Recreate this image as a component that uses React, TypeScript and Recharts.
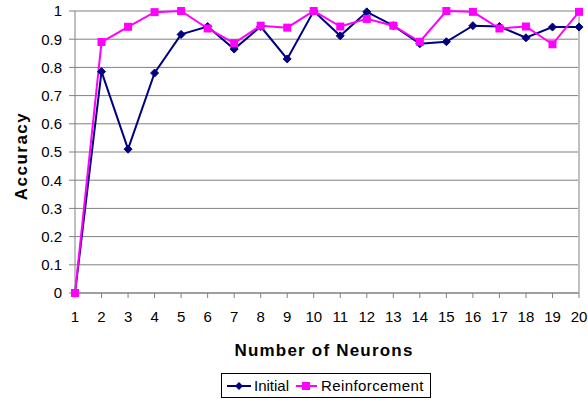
import React from 'react';
import {
  LineChart,
  Line,
  XAxis,
  YAxis,
  CartesianGrid,
  Legend,
  ReferenceLine,
} from 'recharts';

// Number of neurons on the x axis
const neurons = [1, 2, 3, 4, 5, 6, 7, 8, 9, 10, 11, 12, 13, 14, 15, 16, 17, 18, 19, 20];

// Accuracy after initial training
const initial = [
  0, 0.785, 0.51, 0.78, 0.917, 0.945, 0.865, 0.945, 0.83, 1.0,
  0.912, 0.997, 0.948, 0.884, 0.891, 0.948, 0.945, 0.905, 0.943, 0.943,
];

// Accuracy after reinforcement
const reinforcement = [
  0, 0.89, 0.944, 0.996, 1.0, 0.938, 0.886, 0.948, 0.941, 1.0,
  0.945, 0.972, 0.948, 0.891, 1.0, 0.997, 0.938, 0.945, 0.882, 0.997,
];

const yTicks = [0, 0.1, 0.2, 0.3, 0.4, 0.5, 0.6, 0.7, 0.8, 0.9, 1];

const data = neurons.map((n, i) => ({
  n,
  initial: initial[i],
  reinforcement: reinforcement[i],
}));

const FONT = 'Liberation Sans, Arial, sans-serif';
const NAVY = '#000080';
const MAGENTA = '#FF00FF';

const Diamond = (props: any) => {
  const { cx, cy } = props;
  if (cx == null || cy == null) return null;
  const r = 4;
  return (
    <path
      d={`M${cx},${cy - r}L${cx + r},${cy}L${cx},${cy + r}L${cx - r},${cy}Z`}
      fill={NAVY}
      stroke={NAVY}
    />
  );
};

const Square = (props: any) => {
  const { cx, cy } = props;
  if (cx == null || cy == null) return null;
  const h = 4;
  return <rect x={cx - h} y={cy - h} width={h * 2} height={h * 2} fill={MAGENTA} />;
};

const LegendBox = () => (
  <div
    style={{
      border: '1px solid #000',
      width: 208,
      height: 23,
      display: 'flex',
      alignItems: 'center',
      fontFamily: FONT,
      fontSize: 15,
      color: '#000',
      boxSizing: 'content-box',
      background: '#fff',
      whiteSpace: 'nowrap',
    }}
  >
    <svg width={28} height={12} style={{ marginLeft: 4 }}>
      <line x1={1} y1={6} x2={25} y2={6} stroke={NAVY} strokeWidth={2} />
      <path d="M13,2L17,6L13,10L9,6Z" fill={NAVY} />
    </svg>
    <span style={{ marginLeft: 0 }}>Initial</span>
    <svg width={24} height={12} style={{ marginLeft: 6 }}>
      <line x1={1} y1={6} x2={22} y2={6} stroke={MAGENTA} strokeWidth={2} />
      <rect x={7} y={2} width={8} height={8} fill={MAGENTA} />
    </svg>
    <span style={{ marginLeft: 2, letterSpacing: 0.4 }}>Reinforcement</span>
  </div>
);

const YTitle = (props: any) => {
  const vb = props.viewBox || { x: 0, y: 0, width: 0, height: 0 };
  const cx = 21;
  const cy = vb.y + vb.height / 2 + 4;
  return (
    <text
      x={cx}
      y={cy}
      transform={`rotate(-90 ${cx} ${cy})`}
      textAnchor="middle"
      dominantBaseline="central"
      fontFamily={FONT}
      fontSize={17}
      fontWeight="bold"
      letterSpacing={1.5}
      fill="#000"
    >
      Accuracy
    </text>
  );
};

const XTitle = (props: any) => {
  const vb = props.viewBox || { x: 0, y: 0, width: 0, height: 0 };
  const cx = vb.x + vb.width / 2 - 3;
  return (
    <text
      x={cx}
      y={356}
      textAnchor="middle"
      fontFamily={FONT}
      fontSize={17}
      fontWeight="bold"
      letterSpacing={1.2}
      fill="#000"
    >
      Number of Neurons
    </text>
  );
};

export default function App() {
  return (
    <div style={{ position: 'absolute', left: 0, top: 0, background: '#fff' }}>
      <LineChart
        width={588}
        height={400}
        data={data}
        margin={{ top: 11, right: 9, bottom: 20, left: 0 }}
      >
        <CartesianGrid horizontal vertical={false} stroke="#808080" strokeWidth={1} />
        <ReferenceLine x={20} stroke="#c0c0c0" strokeWidth={2} />
        <XAxis
          dataKey="n"
          type="number"
          domain={[1, 20]}
          ticks={neurons}
          interval={0}
          stroke="#808080"
          tickSize={5}
          tickMargin={13}
          height={62}
          tick={{ fill: '#000', fontFamily: FONT, fontSize: 15 }}
          label={<XTitle />}
        />
        <YAxis
          type="number"
          domain={[0, 1]}
          ticks={yTicks}
          interval={0}
          width={75}
          stroke="#808080"
          tickSize={6}
          tickMargin={7}
          tickFormatter={(v: number) => String(Math.round(v * 10) / 10)}
          tick={{ fill: '#000', fontFamily: FONT, fontSize: 15 }}
          label={<YTitle />}
        />
        <Legend
          verticalAlign="bottom"
          content={<LegendBox />}
          wrapperStyle={{ left: 221, top: 373, bottom: 'auto', width: 'auto', height: 25 }}
        />
        <Line
          type="linear"
          dataKey="initial"
          stroke={NAVY}
          strokeWidth={2}
          dot={<Diamond />}
          activeDot={false}
          isAnimationActive={false}
        />
        <Line
          type="linear"
          dataKey="reinforcement"
          stroke={MAGENTA}
          strokeWidth={2}
          dot={<Square />}
          activeDot={false}
          isAnimationActive={false}
        />
      </LineChart>
    </div>
  );
}
